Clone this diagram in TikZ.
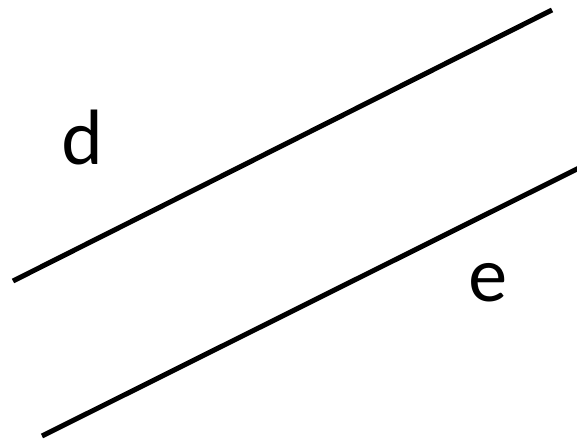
\documentclass[tikz,border=0pt]{standalone}
\usepackage{fontspec}
\setmainfont{Lato}
\begin{document}
\begin{tikzpicture}[x=1pt,y=1pt,
  ln/.style={line width=5pt},
  lbl/.style={font=\fontsize{74}{74}\selectfont, inner sep=0pt, anchor=base}]
\useasboundingbox (0,0) rectangle (577,444);
\coordinate (a1) at (13,163);
\coordinate (a2) at (552,434);
\coordinate (b1) at (42,8);
\coordinate (b2) at (580,276.5);
\draw[ln] (a1) -- (a2);
\draw[ln] (b1) -- (b2);
\node[lbl] (d) at (82,279) {d};
\node[lbl] (e) at (488,142) {e};
\end{tikzpicture}
\end{document}
